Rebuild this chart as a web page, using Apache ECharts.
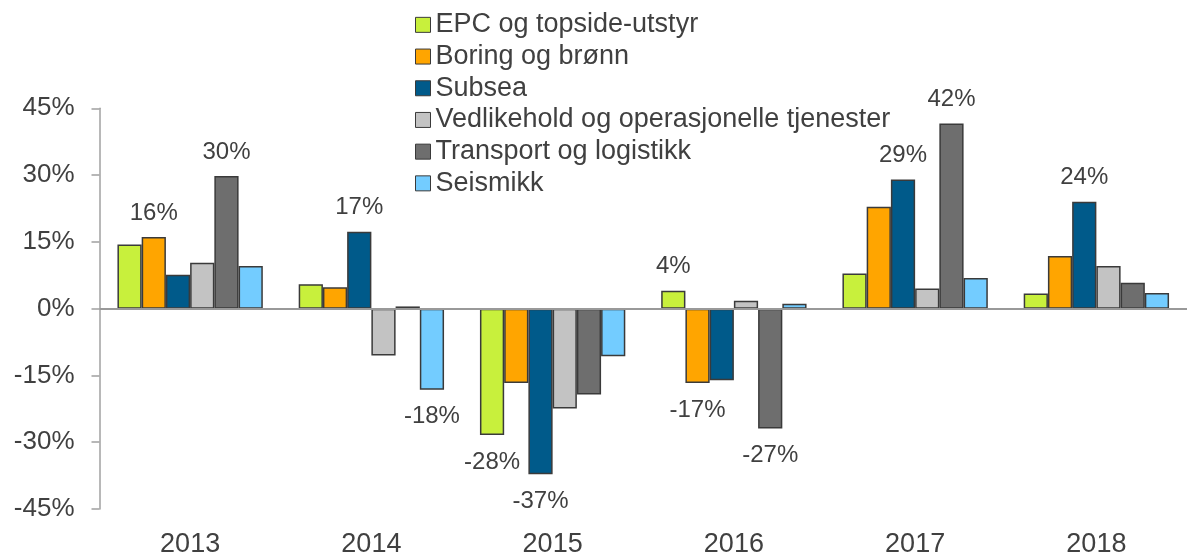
<!DOCTYPE html>
<html>
<head>
<meta charset="utf-8">
<script src="https://cdn.jsdelivr.net/npm/echarts@6/dist/echarts.min.js"></script>
<style>
  html, body { margin: 0; padding: 0; background: #fff; }
  #main { width: 1187px; height: 558px; }
</style>
</head>
<body>
<div id="main"></div>
<script>
// år / kategorier
var years = ["2013", "2014", "2015", "2016", "2017", "2018"];

// vekst i prosent per segment
var epc         = [14.4, 5.5, -28.4, 4.0, 7.9, 3.4];
var boring      = [16.1, 4.8, -16.7, -16.7, 22.9, 11.8];
var subsea      = [7.6, 17.3, -37.2, -16.1, 29.0, 24.0];
var vedlikehold = [10.3, -10.5, -22.4, 1.8, 4.5, 9.6];
var transport   = [29.8, 0.5, -19.3, -26.9, 41.6, 5.8];
var seismikk    = [9.6, -18.2, -10.7, 1.1, 6.9, 3.5];

var names = [
  "EPC og topside-utstyr",
  "Boring og brønn",
  "Subsea",
  "Vedlikehold og operasjonelle tjenester",
  "Transport og logistikk",
  "Seismikk"
];

// hvilke søyler som har verdietikett: [serie, år]
var labeled = [[1, 0], [4, 0], [2, 1], [5, 1], [0, 2], [2, 2], [0, 3], [1, 3], [4, 3], [2, 4], [4, 4], [2, 5]];

var yTicks = { min: -45, max: 45, step: 15 };

var colors = ["#C8F03C", "#FFA500", "#005A8A", "#C3C3C3", "#6E6E6E", "#73CCFF"];
var font = "'Liberation Sans', Arial, sans-serif";
var textColor = "#404040";

var seriesData = [epc, boring, subsea, vedlikehold, transport, seismikk];

function isLabeled(s, i) {
  return labeled.some(function (p) { return p[0] === s && p[1] === i; });
}

var series = seriesData.map(function (vals, s) {
  return {
    name: names[s],
    type: "bar",
    barGap: 0,
    barCategoryGap: "19.8%",
    itemStyle: { color: colors[s], borderColor: "#3a3a3a", borderWidth: 1.5 },
    data: vals.map(function (v, i) {
      var item = { value: v };
      if (isLabeled(s, i)) {
        item.label = {
          show: true,
          position: v >= 0 ? "top" : "bottom",
          distance: v >= 0 ? 12 : 15,
          formatter: Math.round(v) + "%",
          fontSize: 24,
          fontFamily: font,
          color: textColor
        };
      }
      return item;
    }),
    markLine: s === 0 ? {
      silent: true,
      symbol: "none",
      label: { show: false },
      lineStyle: { color: "#999", width: 2, type: "solid" },
      data: [{ yAxis: 0 }]
    } : undefined
  };
});

var option = {
  animation: false,
  backgroundColor: "#fff",
  textStyle: { fontFamily: font },
  legend: {
    orient: "vertical",
    left: 415,
    top: 9,
    padding: 0,
    itemWidth: 15,
    itemHeight: 15,
    itemGap: 0,
    icon: "rect",
    itemStyle: { borderColor: "#3a3a3a", borderWidth: 1 },
    textStyle: { fontSize: 27, fontFamily: font, color: textColor, lineHeight: 31.7 },
    data: names
  },
  grid: { left: 99.5, top: 108.3, width: 1100, height: 405 },
  xAxis: {
    type: "category",
    data: years,
    position: "bottom",
    axisLine: { show: false, onZero: false },
    axisTick: { show: false },
    axisLabel: { fontSize: 27, fontFamily: font, color: textColor, margin: 22 }
  },
  yAxis: {
    type: "value",
    min: yTicks.min,
    max: yTicks.max,
    interval: yTicks.step,
    axisLine: { show: true, lineStyle: { color: "#a0a0a0", width: 1.5 } },
    axisTick: { show: true, length: 8, lineStyle: { color: "#a0a0a0", width: 1.5 } },
    splitLine: { show: false },
    axisLabel: {
      fontSize: 26,
      fontFamily: font,
      color: textColor,
      margin: 25,
      formatter: "{value}%"
    }
  },
  series: series
};

var myChart = echarts.init(document.getElementById("main"));
myChart.setOption(option);
</script>
</body>
</html>
